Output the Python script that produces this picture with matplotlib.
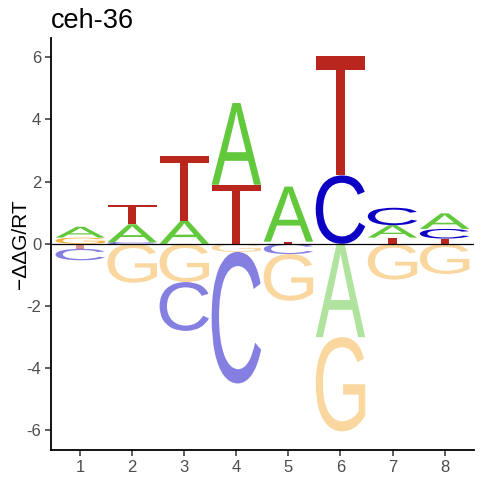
import matplotlib
matplotlib.use("Agg")
import matplotlib.pyplot as plt
from matplotlib.textpath import TextPath
from matplotlib.patches import PathPatch
from matplotlib.font_manager import FontProperties
from matplotlib.transforms import Affine2D

# -ddG/RT per position (positive = above zero, negative = below)
positions = [1, 2, 3, 4, 5, 6, 7, 8]
A_vals = [0.35, 0.58, 0.74, 2.63, 1.77, -3.00, 0.40, 0.50]
C_vals = [-0.37, 0.05, -1.57, -4.23, -0.33, 2.20, 0.56, 0.31]
G_vals = [0.20, -1.25, -1.23, -0.26, -1.50, -3.03, -1.15, -0.97]
T_vals = [-0.16, 0.62, 2.10, 1.90, 0.07, 3.83, 0.20, 0.17]
title = "ceh-36"

letter_vals = {"A": A_vals, "C": C_vals, "G": G_vals, "T": T_vals}
letter_cols = {"A": "#62C83C", "C": "#0C00C4", "G": "#F4B03F", "T": "#B8261E"}
LETTER_W = 0.95

glyph_font = FontProperties(family=["Liberation Sans", "DejaVu Sans"])
glyphs = {}
for l in letter_vals:
    p = TextPath((0, 0), l, size=1, prop=glyph_font)
    glyphs[l] = (p, p.get_extents())


def draw_letter(ax, l, x, y0, y1, alpha):
    path, bb = glyphs[l]
    tr = (Affine2D()
          .translate(-bb.x0, -bb.y0)
          .scale(LETTER_W / bb.width, (y1 - y0) / bb.height)
          .translate(x - LETTER_W / 2, y0))
    patch = PathPatch(tr.transform_path(path), facecolor=letter_cols[l],
                      edgecolor="none", alpha=alpha, zorder=2)
    ax.add_patch(patch)


plt.rcParams["font.family"] = ["Liberation Sans", "DejaVu Sans"]
fig = plt.figure(figsize=(4.8, 4.8), dpi=100)
ax = fig.add_axes([0.106, 0.0625, 0.882, 0.859])

for i, pos in enumerate(positions):
    vals = [(l, letter_vals[l][i]) for l in letter_vals]
    pos_vals = sorted([v for v in vals if v[1] > 0], key=lambda v: v[1])
    neg_vals = sorted([v for v in vals if v[1] < 0], key=lambda v: -v[1])
    y = 0
    for l, v in pos_vals:
        draw_letter(ax, l, pos, y, y + v, 1.0)
        y += v
    y = 0
    for l, v in neg_vals:
        draw_letter(ax, l, pos, y + v, y, 0.5)
        y += v

ax.axhline(0, color="black", linewidth=0.9, zorder=3)

ax.set_xlim(0.437, 8.57)
ax.set_ylim(-6.63, 6.63)
ax.set_xticks(positions)
ax.set_yticks([-6, -4, -2, 0, 2, 4, 6])
ax.set_yticklabels(["-6", "-4", "-2", "0", "2", "4", "6"])
ax.tick_params(colors="#333333", labelcolor="#4D4D4D", labelsize=12, length=4, width=1.1, pad=3)
for s in ["top", "right"]:
    ax.spines[s].set_visible(False)
for s in ["left", "bottom"]:
    ax.spines[s].set_linewidth(1.3)
    ax.spines[s].set_color("black")

ax.set_ylabel("\u2212\u0394\u0394G/RT", fontsize=15, labelpad=-3)
ax.set_title(title, loc="left", fontsize=19.5, pad=7)

fig.savefig("out.png", dpi=100)
